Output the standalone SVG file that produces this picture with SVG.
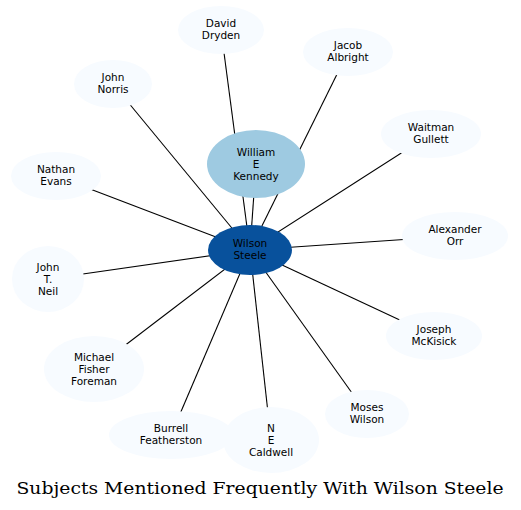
<svg xmlns="http://www.w3.org/2000/svg" width="521" height="510" viewBox="0 0 521 510">
<style>
.n{fill:#f7fbff;stroke:none}
.t{font-family:"DejaVu Sans",sans-serif;font-size:10.5px;text-anchor:middle;fill:#000}
.e line{stroke:#000;stroke-width:1.1}
.title{font-family:"DejaVu Serif",serif;font-size:16.5px;text-anchor:middle;fill:#000}
</style>
<rect width="521" height="510" fill="#fff"/>
<g class="e" id="edges">
<line x1="250" y1="250" x2="221" y2="30"/>
<line x1="250" y1="250" x2="348" y2="52"/>
<line x1="250" y1="250" x2="113" y2="84"/>
<line x1="250" y1="250" x2="431" y2="134"/>
<line x1="250" y1="250" x2="256" y2="164"/>
<line x1="250" y1="250" x2="56" y2="176"/>
<line x1="250" y1="250" x2="455" y2="236"/>
<line x1="250" y1="250" x2="48" y2="279"/>
<line x1="250" y1="250" x2="434" y2="336"/>
<line x1="250" y1="250" x2="94" y2="369"/>
<line x1="250" y1="250" x2="367" y2="414"/>
<line x1="250" y1="250" x2="171" y2="435"/>
<line x1="250" y1="250" x2="271" y2="440"/>
</g>
<g id="dryden"><ellipse class="n" cx="221" cy="30" rx="43" ry="24"/><text class="t" x="221" y="26.8">David</text><text class="t" x="221" y="38.8">Dryden</text></g>
<g id="albright"><ellipse class="n" cx="348" cy="52" rx="45" ry="24"/><text class="t" x="348" y="48.8">Jacob</text><text class="t" x="348" y="60.8">Albright</text></g>
<g id="norris"><ellipse class="n" cx="113" cy="84" rx="39" ry="24"/><text class="t" x="113" y="80.8">John</text><text class="t" x="113" y="92.8">Norris</text></g>
<g id="gullett"><ellipse class="n" cx="431" cy="134" rx="50" ry="24"/><text class="t" x="431" y="130.8">Waitman</text><text class="t" x="431" y="142.8">Gullett</text></g>
<g id="kennedy"><ellipse cx="256" cy="164" rx="49" ry="34" fill="#9ecae1"/><text class="t" x="256" y="155.8">William</text><text class="t" x="256" y="167.8">E</text><text class="t" x="256" y="179.8">Kennedy</text></g>
<g id="evans"><ellipse class="n" cx="56" cy="176" rx="45" ry="24"/><text class="t" x="56" y="172.8">Nathan</text><text class="t" x="56" y="184.8">Evans</text></g>
<g id="orr"><ellipse class="n" cx="455" cy="236" rx="53" ry="24"/><text class="t" x="455" y="232.8">Alexander</text><text class="t" x="455" y="244.8">Orr</text></g>
<g id="steele"><ellipse cx="250" cy="250" rx="42" ry="25" fill="#08519c"/><text class="t" x="250" y="246.8">Wilson</text><text class="t" x="250" y="258.8">Steele</text></g>
<g id="neil"><ellipse class="n" cx="48" cy="279" rx="36" ry="33"/><text class="t" x="48" y="270.8">John</text><text class="t" x="48" y="282.8">T.</text><text class="t" x="48" y="294.8">Neil</text></g>
<g id="mckisick"><ellipse class="n" cx="434" cy="336" rx="48" ry="24"/><text class="t" x="434" y="332.8">Joseph</text><text class="t" x="434" y="344.8">McKisick</text></g>
<g id="foreman"><ellipse class="n" cx="94" cy="369" rx="50" ry="33"/><text class="t" x="94" y="360.8">Michael</text><text class="t" x="94" y="372.8">Fisher</text><text class="t" x="94" y="384.8">Foreman</text></g>
<g id="wilson"><ellipse class="n" cx="367" cy="414" rx="42" ry="24"/><text class="t" x="367" y="410.8">Moses</text><text class="t" x="367" y="422.8">Wilson</text></g>
<g id="featherston"><ellipse class="n" cx="171" cy="435" rx="62" ry="24"/><text class="t" x="171" y="431.8">Burrell</text><text class="t" x="171" y="443.8">Featherston</text></g>
<g id="caldwell"><ellipse class="n" cx="271" cy="440" rx="48" ry="33"/><text class="t" x="271" y="431.8">N</text><text class="t" x="271" y="443.8">E</text><text class="t" x="271" y="455.8">Caldwell</text></g>
<text class="title" x="260" y="494" textLength="487" lengthAdjust="spacingAndGlyphs">Subjects Mentioned Frequently With Wilson Steele</text>
</svg>
